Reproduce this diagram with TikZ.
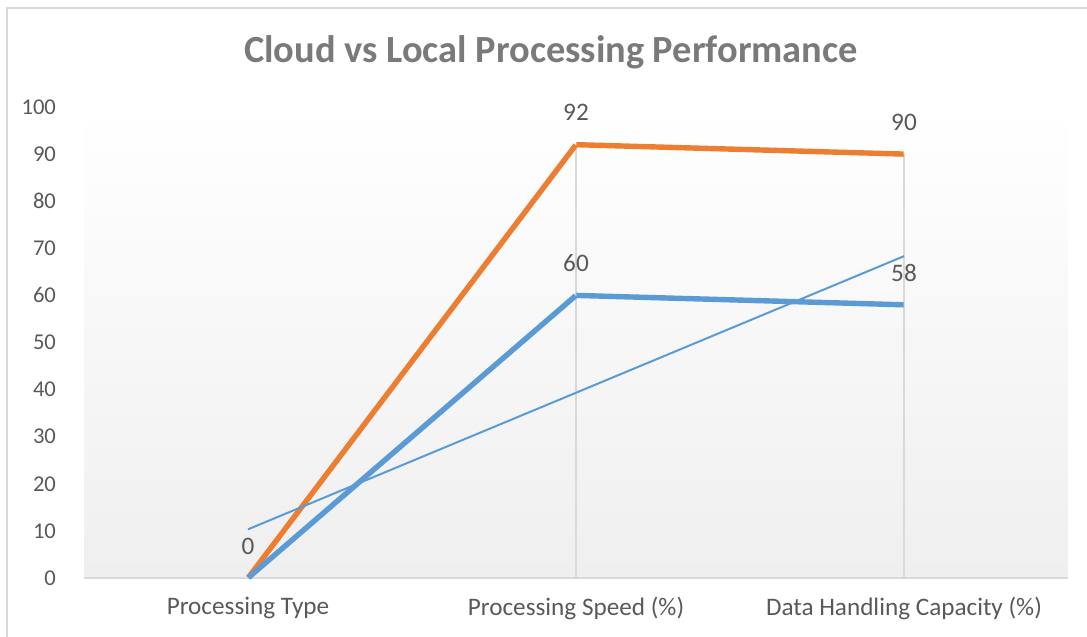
\documentclass[tikz,border=0pt]{standalone}
\usepackage{fontspec}
\setmainfont{Carlito}
\usetikzlibrary{positioning}
\definecolor{serorange}{HTML}{ED7D31}
\definecolor{serblue}{HTML}{5B9BD5}
\definecolor{txtgray}{HTML}{595959}
\definecolor{ttlgray}{HTML}{7A7A7A}
\definecolor{linegray}{HTML}{D9D9D9}
\definecolor{plotgray}{HTML}{EFEFEF}
\begin{document}
\begin{tikzpicture}[x=0.5pt,y=0.5pt,
    pt/.style = {inner sep=0pt, minimum size=0pt},
    tick/.style = {font=\fontsize{11.3}{13}\selectfont, text=txtgray, anchor=east},
    cat/.style = {font=\fontsize{12.6}{14}\selectfont, text=txtgray},
    val/.style = {font=\fontsize{12.6}{14}\selectfont, text=txtgray},
    series/.style = {line width=2.7pt, line join=round},
    drop/.style = {draw=linegray, line width=0.8pt}]
    \useasboundingbox (0,0) rectangle (1087,637);
    % frame and plot area
    \draw[linegray, line width=1pt] (1087,629) -- (7,629) -- (7,0);
    \shade[top color=white, bottom color=plotgray] (84,59) rectangle (1068,530);
    \node[font=\bfseries\fontsize{19.2}{23}\selectfont, text=ttlgray, anchor=base] (title) at (551,574) {Cloud vs Local Processing Performance};
    % axis
    \coordinate (ax0) at (84,59);
    \coordinate (ax1) at (1068,59);
    \draw[linegray, line width=0.8pt] (ax0) -- (ax1);
    \foreach \v in {0,10,...,100}
        \node[tick] (tk\v) at (63,59+4.71*\v) {\v};
    \node[cat] (cat1) at (248,29) {Processing Type};
    \node[cat] (cat2) at (576,29) {Processing Speed (\%)};
    \node[cat] (cat3) at (904,29) {Data Handling Capacity (\%)};
    % data points
    \node[pt] (c1) at (248,59) {};
    \node[pt] (c2) at (576,59+4.71*92) {};
    \node[pt] (c3) at (904,59+4.71*90) {};
    \node[pt] (l1) at (248,59) {};
    \node[pt] (l2) at (576,59+4.71*60) {};
    \node[pt] (l3) at (904,59+4.71*58) {};
    \coordinate (t1) at (248,59+4.71*10.33);
    \coordinate (t3) at (904,59+4.71*68.33);
    % drop lines
    \draw[drop] (c2) -- (c2 |- ax0);
    \draw[drop] (c3) -- (c3 |- ax0);
    % series
    \draw[series, serorange] (c1) -- (c2) -- (c3);
    \draw[series, serblue] (l1) -- (l2) -- (l3);
    \draw[serblue, line width=1pt] (t1) -- (t3);
    % value labels
    \node[val] (v1) at ([yshift=16pt]l1) {0};
    \node[val] (v2) at ([yshift=16pt]c2) {92};
    \node[val] (v3) at ([yshift=16pt]c3) {90};
    \node[val] (v4) at ([yshift=16pt]l2) {60};
    \node[val] (v5) at ([yshift=16pt]l3) {58};
\end{tikzpicture}
\end{document}
